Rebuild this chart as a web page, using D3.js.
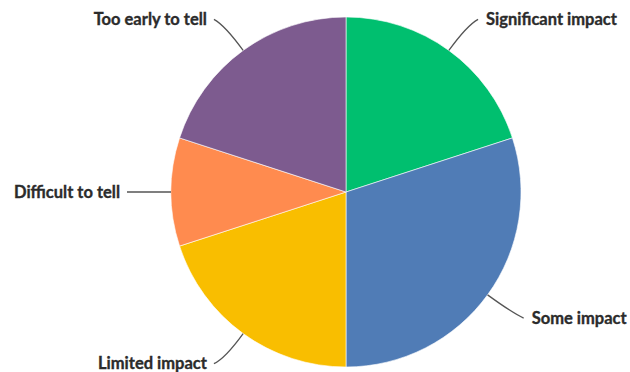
<!DOCTYPE html>
<html><head><meta charset="utf-8">
<script src="https://cdn.jsdelivr.net/npm/d3@7"></script>
<style>html,body{margin:0;padding:0;background:#fff;}svg{display:block;}</style>
</head><body>
<svg id="chart" width="630" height="372"></svg>
<script>
const categories = ["Significant impact","Some impact","Limited impact","Difficult to tell","Too early to tell"];
const values = [20, 30, 20, 10, 20];
const colors = ["#00BF6F","#507CB6","#F9BE00","#FF8B4F","#7D5B8F"];

const W = 630, H = 372, cx = 346, cy = 192, R = 175;
const svg = d3.select("#chart");
const g = svg.append("g").attr("transform", `translate(${cx},${cy})`);

const data = categories.map((c,i)=>({name:c, value:values[i], color:colors[i]}));
const pie = d3.pie().value(d=>d.value).sort(null);
const arcs = pie(data);
const arc = d3.arc().innerRadius(0).outerRadius(R);

g.selectAll("path.slice").data(arcs).join("path")
  .attr("class","slice")
  .attr("d", arc)
  .attr("fill", d=>d.data.color)
  .attr("stroke", "#fff").attr("stroke-width", 0.6);

// leader lines + labels
arcs.forEach(d=>{
  const a = (d.startAngle + d.endAngle)/2;
  const sx = Math.sin(a), sy = -Math.cos(a);
  const p0 = [R*sx, R*sy];
  const right = sx > 0.01, left = sx < -0.01;
  let p1, p2;
  if (!right && !left) return;
  if (Math.abs(sy) < 0.05) {
    p1 = [(R+22)*sx, 0];
    p2 = [(R+44)*sx, 0];
  } else {
    p1 = [(R+31)*sx, (R+31)*sy];
    p2 = [p1[0] + (right ? 11 : -11), p1[1] + (sy < 0 ? -6 : 5)];
  }
  g.append("path")
    .attr("d", `M${p0[0]},${p0[1]} Q${p1[0]},${p1[1]} ${p2[0]},${p2[1]}`)
    .attr("fill","none").attr("stroke","#555").attr("stroke-width",1.3);
  g.append("text")
    .attr("x", p2[0] + (right ? 8 : -7))
    .attr("y", p2[1] + 5.5)
    .attr("text-anchor", right ? "start" : "end")
    .attr("font-family", "Lato, 'Open Sans', sans-serif")
    .attr("font-weight", 700)
    .attr("font-size", 16.5)
    .attr("fill", "#2b2b2b")
    .attr("stroke", "#2b2b2b").attr("stroke-width", 0.35)
    .text(d.data.name);
});
</script>
</body></html>
